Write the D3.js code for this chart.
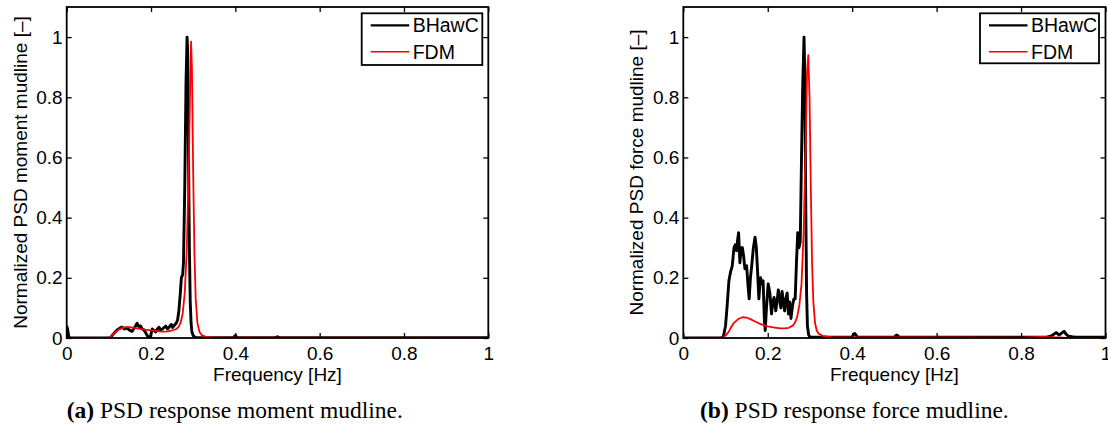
<!DOCTYPE html>
<html><head><meta charset="utf-8">
<script src="https://cdn.jsdelivr.net/npm/d3@7"></script>
<style>body{margin:0;background:#fff}svg{display:block}</style>
</head><body><svg id="c" width="1108" height="428"></svg>
<script>
// ---- data ----
const xTicks = [0, 0.2, 0.4, 0.6, 0.8, 1];
const yTicks = [0, 0.2, 0.4, 0.6, 0.8, 1];
const xTickLabels = ["0", "0.2", "0.4", "0.6", "0.8", "1"];
const yTickLabels = ["0", "0.2", "0.4", "0.6", "0.8", "1"];
const seriesNames = ["BHawC", "FDM"];

const momentBhawcF = [0, 0.002, 0.005, 0.01, 0.1, 0.105, 0.11, 0.115, 0.12, 0.125, 0.131, 0.137, 0.143, 0.149, 0.155, 0.161, 0.167, 0.171, 0.175, 0.179, 0.183, 0.187, 0.191, 0.195, 0.198, 0.203, 0.207, 0.211, 0.215, 0.219, 0.223, 0.227, 0.231, 0.235, 0.239, 0.243, 0.248, 0.251, 0.254, 0.257, 0.26, 0.263, 0.266, 0.269, 0.272, 0.275, 0.277, 0.28, 0.283, 0.2855, 0.287, 0.289, 0.291, 0.293, 0.295, 0.297, 0.3, 0.305, 0.33, 0.395, 0.4, 0.405, 0.495, 0.5, 0.505, 1.0];
const momentBhawcV = [0.04, 0.03, 0.003, 0, 0, 0.003, 0.012, 0.02, 0.027, 0.032, 0.036, 0.03, 0.033, 0.026, 0.022, 0.035, 0.049, 0.038, 0.04, 0.03, 0.027, 0.018, 0.008, 0.0, 0.002, 0.03, 0.025, 0.02, 0.03, 0.036, 0.025, 0.03, 0.035, 0.04, 0.03, 0.036, 0.045, 0.035, 0.04, 0.045, 0.05, 0.06, 0.09, 0.14, 0.2, 0.21, 0.25, 0.5, 0.85, 1.0, 0.95, 0.6, 0.3, 0.12, 0.05, 0.02, 0.008, 0.002, 0.001, 0.001, 0.008, 0.001, 0.001, 0.004, 0.001, 0.001];

const momentFdmF = [0, 0.1, 0.105, 0.11, 0.12, 0.13, 0.14, 0.15, 0.16, 0.18, 0.2, 0.22, 0.23, 0.24, 0.25, 0.26, 0.265, 0.27, 0.275, 0.28, 0.285, 0.29, 0.293, 0.295, 0.297, 0.3, 0.303, 0.306, 0.31, 0.315, 0.32, 0.33, 0.35, 1];
const momentFdmV = [0, 0, 0.004, 0.012, 0.025, 0.033, 0.036, 0.036, 0.034, 0.029, 0.025, 0.022, 0.021, 0.022, 0.025, 0.03, 0.036, 0.05, 0.08, 0.15, 0.3, 0.6, 0.85, 0.985, 0.9, 0.55, 0.28, 0.13, 0.05, 0.02, 0.01, 0.004, 0.001, 0];

const forceBhawcF = [0, 0.09, 0.095, 0.1, 0.104, 0.108, 0.112, 0.116, 0.12, 0.123, 0.126, 0.129, 0.131, 0.134, 0.137, 0.14, 0.143, 0.146, 0.15, 0.153, 0.156, 0.159, 0.162, 0.166, 0.17, 0.173, 0.176, 0.179, 0.181, 0.183, 0.186, 0.189, 0.192, 0.194, 0.197, 0.201, 0.205, 0.209, 0.212, 0.215, 0.219, 0.222, 0.225, 0.228, 0.231, 0.234, 0.237, 0.24, 0.243, 0.246, 0.249, 0.252, 0.255, 0.259, 0.262, 0.265, 0.268, 0.271, 0.274, 0.277, 0.28, 0.283, 0.286, 0.288, 0.29, 0.292, 0.294, 0.297, 0.3, 0.31, 0.4, 0.403, 0.406, 0.409, 0.412, 0.5, 0.503, 0.506, 0.509, 0.512, 0.86, 0.87, 0.877, 0.883, 0.89, 0.896, 0.902, 0.907, 0.912, 0.92, 0.93, 1];
const forceBhawcV = [0, 0, 0.005, 0.04, 0.11, 0.19, 0.22, 0.24, 0.3, 0.31, 0.29, 0.33, 0.35, 0.25, 0.3, 0.3, 0.27, 0.23, 0.24, 0.18, 0.13, 0.2, 0.24, 0.3, 0.335, 0.3, 0.22, 0.13, 0.17, 0.2, 0.18, 0.19, 0.06, 0.025, 0.1, 0.18, 0.15, 0.08, 0.12, 0.135, 0.09, 0.12, 0.16, 0.13, 0.1, 0.155, 0.12, 0.09, 0.13, 0.15, 0.08, 0.12, 0.065, 0.11, 0.13, 0.13, 0.25, 0.35, 0.3, 0.32, 0.6, 0.85, 1.0, 0.85, 0.45, 0.15, 0.04, 0.01, 0.003, 0.003, 0.003, 0.012, 0.015, 0.01, 0.003, 0.003, 0.008, 0.01, 0.006, 0.003, 0.003, 0.006, 0.012, 0.018, 0.01, 0.016, 0.022, 0.012, 0.006, 0.004, 0.003, 0.003];

const forceFdmF = [0, 0.09, 0.095, 0.1, 0.105, 0.11, 0.115, 0.12, 0.13, 0.14, 0.15, 0.16, 0.17, 0.18, 0.19, 0.2, 0.21, 0.22, 0.23, 0.24, 0.25, 0.26, 0.265, 0.27, 0.275, 0.28, 0.285, 0.29, 0.293, 0.296, 0.299, 0.302, 0.305, 0.308, 0.312, 0.316, 0.32, 0.33, 0.35, 0.8, 0.85, 0.9, 1];
const forceFdmV = [0, 0, 0.003, 0.008, 0.016, 0.027, 0.04, 0.05, 0.063, 0.069, 0.068, 0.062, 0.055, 0.048, 0.043, 0.039, 0.036, 0.034, 0.032, 0.032, 0.034, 0.042, 0.052, 0.072, 0.11, 0.18, 0.35, 0.65, 0.88, 0.94, 0.8, 0.5, 0.25, 0.12, 0.05, 0.025, 0.015, 0.007, 0.003, 0.001, 0.004, 0.001, 0];

const panels = [
  {id: "a", x0: 66.7, x1: 488.3, ylabel: "Normalized PSD moment mudline [\u2013]",
   caption: "PSD response moment mudline.", capX: 66.7,
   legend: {x: 361.7, y: 13.3, w: 120.6, h: 51.7},
   series: [[momentBhawcF, momentBhawcV], [momentFdmF, momentFdmV]]},
  {id: "b", x0: 683.3, x1: 1105.5, ylabel: "Normalized PSD force mudline [\u2013]",
   caption: "PSD response force mudline.", capX: 700,
   legend: {x: 980, y: 13.3, w: 119, h: 50},
   series: [[forceBhawcF, forceBhawcV], [forceFdmF, forceFdmV]]}
];
const colors = ["#000000", "#ff0000"];
const widths = [2.9, 1.8];

const svg = d3.select("#c");
const plotTop = 7, plotBottom = 338;
const font = "'Liberation Sans', Arial, sans-serif";
const fs = 19;

panels.forEach((p, pi) => {
  const x = d3.scaleLinear().domain([0, 1]).range([p.x0, p.x1]);
  const y = d3.scaleLinear().domain([0, 1.1]).range([plotBottom, plotTop]);
  const g = svg.append("g");
  const cid = "clip" + pi;
  svg.append("clipPath").attr("id", cid).append("rect")
    .attr("x", p.x0).attr("y", plotTop).attr("width", p.x1 - p.x0).attr("height", plotBottom - plotTop);

  p.series.forEach((s, si) => {
    const pts = s[0].map((f, i) => [f, s[1][i]]);
    g.append("path").datum(pts)
      .attr("clip-path", `url(#${cid})`)
      .attr("fill", "none").attr("stroke", colors[si]).attr("stroke-width", widths[si])
      .attr("stroke-linejoin", "round")
      .attr("d", d3.line().x(d => x(d[0])).y(d => y(d[1])));
  });

  const tl = 5;
  const axB = d3.axisBottom(x).tickValues(xTicks).tickSize(-tl).tickPadding(8.5)
    .tickFormat((d, i) => xTickLabels[i]);
  const axT = d3.axisTop(x).tickValues(xTicks).tickSize(-tl).tickFormat("");
  const axL = d3.axisLeft(y).tickValues(yTicks).tickSize(-tl).tickPadding(4)
    .tickFormat((d, i) => yTickLabels[i]);
  const axR = d3.axisRight(y).tickValues(yTicks).tickSize(-tl).tickFormat("");
  const style = a => {
    a.selectAll(".domain").remove();
    a.selectAll("line").attr("stroke", "#000").attr("stroke-width", 1.3);
    a.selectAll("text").attr("font-family", font).attr("font-size", fs).attr("fill", "#000");
  };
  g.append("g").attr("transform", `translate(0,${plotBottom})`).call(axB).call(style);
  g.append("g").attr("transform", `translate(0,${plotTop})`).call(axT).call(style);
  g.append("g").attr("transform", `translate(${p.x0},0)`).call(axL).call(style);
  g.append("g").attr("transform", `translate(${p.x1},0)`).call(axR).call(style);

  g.append("rect").attr("x", p.x0).attr("y", plotTop).attr("width", p.x1 - p.x0).attr("height", plotBottom - plotTop)
    .attr("fill", "none").attr("stroke", "#000").attr("stroke-width", 1.8);

  g.append("text").attr("x", (p.x0 + p.x1) / 2).attr("y", 380.5).attr("text-anchor", "middle")
    .attr("font-family", font).attr("font-size", fs).text("Frequency [Hz]");
  g.append("text").attr("transform", `translate(${p.x0 - 40},${(plotTop + plotBottom) / 2}) rotate(-90)`)
    .attr("text-anchor", "middle").attr("font-family", font).attr("font-size", fs).text(p.ylabel);

  const cap = g.append("text").attr("x", p.capX).attr("y", 418)
    .attr("font-family", "'Liberation Serif', 'DejaVu Serif', serif").attr("font-size", 23.5);
  cap.append("tspan").attr("font-weight", "bold").text(`(${p.id})`);
  cap.append("tspan").text(" " + p.caption);

  const L = p.legend;
  const lg = g.append("g");
  lg.append("rect").attr("x", L.x).attr("y", L.y).attr("width", L.w).attr("height", L.h)
    .attr("fill", "#fff").attr("stroke", "#000").attr("stroke-width", 1.8);
  seriesNames.forEach((n, si) => {
    const ly = L.y + 12 + si * 26.5;
    lg.append("line").attr("x1", L.x + 9).attr("x2", L.x + 47.5).attr("y1", ly).attr("y2", ly)
      .attr("stroke", colors[si]).attr("stroke-width", si === 0 ? 2.2 : 1.6);
    lg.append("text").attr("x", L.x + 51).attr("y", ly + 7).attr("font-family", font)
      .attr("font-size", fs + 0.5).text(n);
  });
});
</script></body></html>
